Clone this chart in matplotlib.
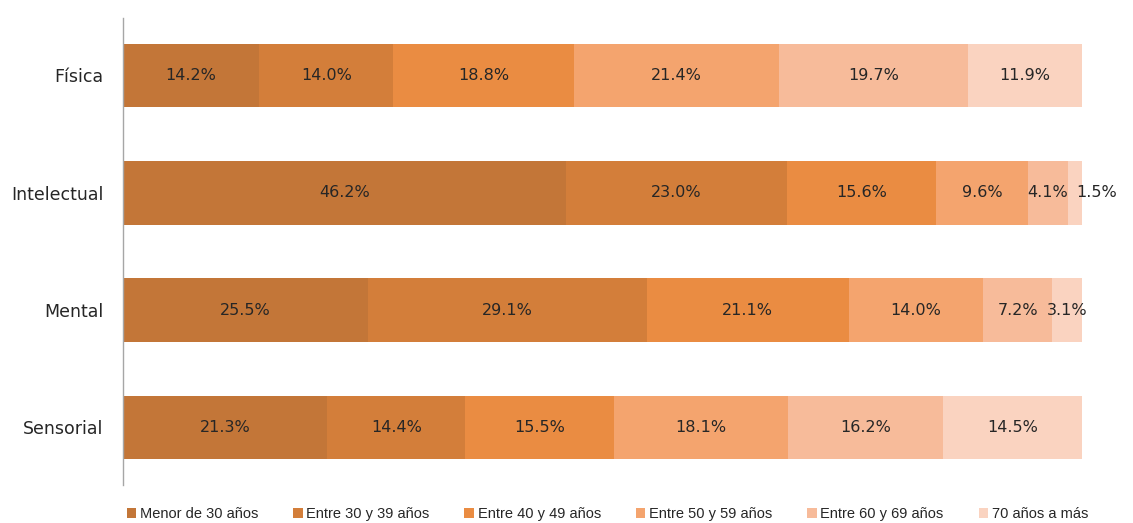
import matplotlib
matplotlib.use("Agg")
import matplotlib.pyplot as plt
import numpy as np

categories = ["Física", "Intelectual", "Mental", "Sensorial"]
series_names = ["Menor de 30 años", "Entre 30 y 39 años", "Entre 40 y 49 años",
                "Entre 50 y 59 años", "Entre 60 y 69 años", "70 años a más"]
values = {
    "Menor de 30 años":   [14.2, 46.2, 25.5, 21.3],
    "Entre 30 y 39 años": [14.0, 23.0, 29.1, 14.4],
    "Entre 40 y 49 años": [18.8, 15.6, 21.1, 15.5],
    "Entre 50 y 59 años": [21.4, 9.6, 14.0, 18.1],
    "Entre 60 y 69 años": [19.7, 4.1, 7.2, 16.2],
    "70 años a más":      [11.9, 1.5, 3.1, 14.5],
}
colors = ["#C37638", "#D37E3A", "#EA8C42", "#F4A46E", "#F7BB9A", "#FAD3C0"]

fig = plt.figure(figsize=(11.33, 5.23), dpi=100)
ax = fig.add_axes([0.1086, 0.0727, 0.9550 - 0.1086, 0.9656 - 0.0727])

y = np.arange(len(categories))
left = np.zeros(len(categories))
handles = []
for name, col in zip(series_names, colors):
    vals = np.array(values[name])
    h = ax.barh(y, vals, left=left, height=0.545, color=col, edgecolor="none", label=name)
    handles.append(h)
    for yi, (l, v) in enumerate(zip(left, vals)):
        xc = l + v / 2
        if v < 2:
            xc += 2.3
        ax.text(xc, yi, f"{v:.1f}%", ha="center", va="center", fontsize=11.5,
                color="#262626", family=["DejaVu Sans"])
    left += vals

ax.set_xlim(0, 100)
ax.set_ylim(3.49, -0.49)
ax.set_yticks(y)
ax.set_yticklabels(categories, fontsize=12.5, color="#262626")
ax.tick_params(axis="y", length=0, pad=14)
ax.set_xticks([])
for s in ["top", "right", "bottom"]:
    ax.spines[s].set_visible(False)
ax.spines["left"].set_color("#A6A6A6")
ax.spines["left"].set_linewidth(1.0)

leg = fig.legend(handles=handles, labels=series_names, loc="lower center",
                 bbox_to_anchor=(0.536, -0.022), ncol=6, frameon=False,
                 prop={"family": ["Liberation Sans", "DejaVu Sans"], "size": 10.5},
                 handlelength=0.65, handleheight=0.65, handletextpad=0.25, columnspacing=2.4)
for t in leg.get_texts():
    t.set_color("#262626")

fig.savefig("out.png", dpi=100)
